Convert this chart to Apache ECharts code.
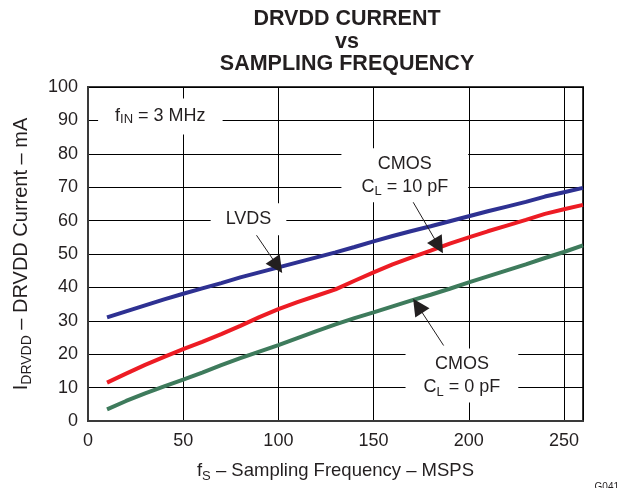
<!DOCTYPE html>
<html>
<head>
<meta charset="utf-8">
<script src="https://cdn.jsdelivr.net/npm/echarts@6/dist/echarts.min.js"></script>
<style>html,body{margin:0;padding:0;background:#fff}#c{width:619px;height:488px}</style>
</head>
<body>
<div id="c"></div>
<script>
var fs = [10,20,30,40,50,60,70,80,90,100,110,120,130,140,150,160,170,180,190,200,210,220,230,240,250,260];
var lvds = [31,32.8,34.6,36.4,38.1,39.7,41.3,43,44.5,46,47.5,49,50.5,52.1,53.8,55.4,56.9,58.3,59.8,61.3,62.8,64.2,65.6,67.2,68.5,69.8];
var cmos10 = [11.5,14.2,16.8,19.2,21.5,23.7,26,28.5,31.1,33.5,35.6,37.5,39.4,42,44.5,46.9,49,51,53.1,55,56.8,58.5,60.2,62,63.4,64.7];
var cmos0 = [3.5,6.0,8.3,10.4,12.4,14.5,16.7,18.8,20.8,22.7,24.8,26.9,28.9,30.8,32.5,34.3,36.1,37.8,39.6,41.5,43.3,45.1,46.9,48.8,50.6,52.6];
var xTicks = [0,50,100,150,200,250];
var yTicks = [0,10,20,30,40,50,60,70,80,90,100];

function pairs(v){ return fs.map(function(x,i){ return [x, v[i]]; }); }
var font = 'Liberation Sans, Arial, Helvetica, sans-serif';
var ink = '#231f20';
var chart = echarts.init(document.getElementById('c'), null, {renderer:'canvas'});
function rich(fsz, lh){
  return {t:{fontFamily:font,fontSize:fsz,color:ink,lineHeight:lh}, s:{fontFamily:font,fontSize:Math.round(fsz*0.7),color:ink,verticalAlign:'bottom',lineHeight:lh,padding:[7,0,0,0]}};
}
var lblBase = {show:true, backgroundColor:'#fff', color:ink, fontFamily:font, fontSize:18, align:'center', verticalAlign:'middle'};
chart.setOption({
  animation:false,
  title:{
    text:'DRVDD CURRENT\nvs\nSAMPLING FREQUENCY',
    left:342, top:3, textAlign:'center',
    textStyle:{fontFamily:font, fontWeight:'bold', fontSize:21.5, lineHeight:22.5, color:ink}
  },
  grid:{left:88, right:36, top:87, bottom:64, show:true, borderColor:'#3a3a3a', borderWidth:2, backgroundColor:'transparent'},
  xAxis:{
    type:'value', min:0, max:260, interval:50,
    name:'{t|f}{s|S}{t| – Sampling Frequency – MSPS}', nameLocation:'middle', nameGap:38,
    nameTextStyle:{rich:rich(18.5,24)},
    axisLine:{show:true, lineStyle:{color:'#3a3a3a', width:2}},
    axisTick:{show:false},
    axisLabel:{fontFamily:font, fontSize:18, color:ink, margin:11, showMaxLabel:false},
    splitLine:{show:true, lineStyle:{color:'#000', width:1}}
  },
  yAxis:{
    type:'value', min:0, max:100, interval:10,
    name:'{t|I}{s|DRVDD}{t| – DRVDD Current – mA}', nameLocation:'middle', nameGap:54,
    nameTextStyle:{rich:rich(20,26)},
    axisLine:{show:true, lineStyle:{color:'#3a3a3a', width:2}},
    axisTick:{show:false},
    axisLabel:{fontFamily:font, fontSize:18, color:ink, margin:10},
    splitLine:{show:true, lineStyle:{color:'#000', width:1}}
  },
  graphic:[{type:'text', right:0, bottom:-4, style:{text:'G041', fontFamily:font, fontSize:10, fill:ink}}],
  series:[
    {type:'line', name:'LVDS', data:pairs(lvds), showSymbol:false, smooth:false, lineStyle:{color:'#2e3192', width:4}, z:3,
     markPoint:{symbol:'rect', symbolSize:0, silent:true, data:[
       {coord:[38,91.2], label:Object.assign({}, lblBase, {padding:[8,17,8,17], formatter:'{t|f}{s|IN}{t| = 3 MHz}', rich:rich(18,20)})},
       {coord:[84.3,60.4], label:Object.assign({}, lblBase, {padding:[7,15,7,15], formatter:'LVDS'})},
       {coord:[166.4,73.6], label:Object.assign({}, lblBase, {padding:[4,20,4,20], lineHeight:23, formatter:'{t|CMOS}\n{t|C}{s|L}{t| = 10 pF}', rich:rich(18,23)})},
       {coord:[196.4,13.6], label:Object.assign({}, lblBase, {padding:[4,18,4,18], lineHeight:23, formatter:'{t|CMOS}\n{t|C}{s|L}{t| = 0 pF}', rich:rich(18,23)})}
     ]},
     markLine:{silent:true, symbol:['none','triangle'], symbolSize:17, label:{show:false}, lineStyle:{color:ink, width:1, type:'solid'},
       emphasis:{disabled:true},
       data:[
         [{coord:[88.4,55.7]},{coord:[99.5,46.4]}],
         [{coord:[170.5,65.8]},{coord:[184.2,52.4]}],
         [{coord:[186.8,22.6]},{coord:[173.2,34.5]}]
       ]}
    },
    {type:'line', name:'CMOS 10pF', data:pairs(cmos10), showSymbol:false, lineStyle:{color:'#ed1c24', width:4}, z:3},
    {type:'line', name:'CMOS 0pF', data:pairs(cmos0), showSymbol:false, lineStyle:{color:'#3e7b5c', width:4}, z:3}
  ]
});
</script>
</body>
</html>
